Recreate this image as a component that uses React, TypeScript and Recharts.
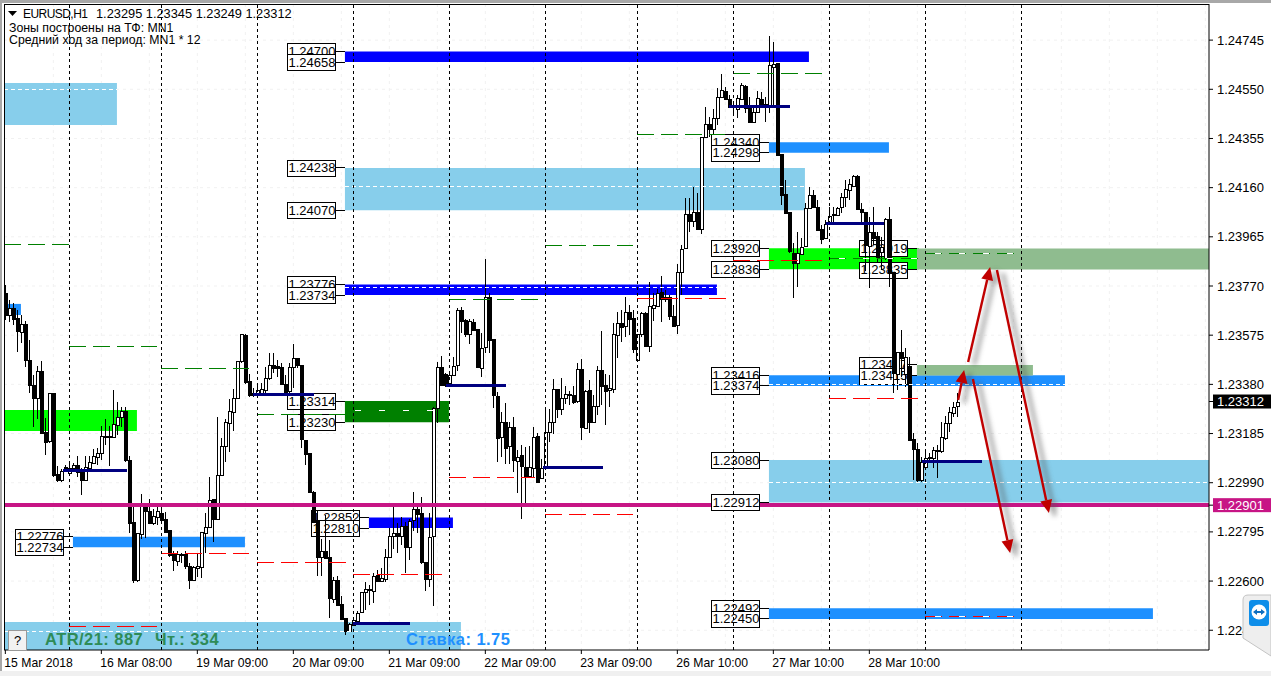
import React from 'react';
import { ComposedChart, Bar, XAxis, YAxis, CartesianGrid, ReferenceArea, ReferenceLine, ReferenceDot } from 'recharts';

// OHLC in 1e-5 price points, [open, high, low, close]
const bars15Mar = [
[123741,123774,123635,123655],[123653,123715,123629,123682],[123682,123701,123616,123639],[123642,123675,123510,123589],[123589,123655,123545,123620],[123620,123633,123450,123477],[123477,123556,123345,123378],[123378,123417,123212,123325],[123325,123453,123242,123434],[123434,123473,123183,123189],[123193,123245,123100,123153],[123153,123345,123146,123345],[123345,123345,123014,123021],[123025,123058,122994,123001],[123001,123043,122994,123037],[123051,123060,123034,123037],[123030,123074,123025,123050],[123047,123070,123040,123060],[123060,123094,123014,123034],[123034,123047,122941,123001],[123001,123094,123001,123051],[123047,123094,123040,123071],[123070,123123,123064,123096],[123093,123127,123060,123107],
];
const bars16Mar = [
[123107,123215,123080,123175],[123175,123241,123140,123170],[123175,123216,123057,123172],[123173,123358,123170,123223],[123216,123312,123179,123249],[123249,123292,123212,123274],[123274,123292,123074,123078],[123080,123094,122790,122832],[122833,122902,122594,122604],[122604,122790,122598,122790],[122786,122944,122766,122905],[122905,122911,122772,122878],[122878,122924,122825,122832],[122829,122885,122821,122858],[122856,122905,122821,122878],[122869,122911,122825,122842],[122848,122872,122792,122795],[122801,122801,122697,122700],[122706,122719,122640,122682],[122680,122719,122660,122706],[122706,122713,122673,122703],[122706,122719,122647,122657],[122660,122673,122570,122604],[122604,122660,122600,122657],
];
const bars19Mar = [
[122654,122706,122618,122660],[122657,122795,122614,122795],[122792,122871,122713,122815],[122812,123013,122812,122920],[122924,122924,122753,122845],[122845,123251,122845,123020],[123020,123169,123017,123136],[123136,123242,123072,123231],[123228,123323,123112,123275],[123271,123360,123195,123325],[123325,123473,123321,123473],[123470,123580,123466,123578],[123576,123580,123381,123391],[123393,123420,123330,123338],[123347,123364,123331,123338],[123338,123375,123330,123358],[123338,123384,123335,123360],[123358,123450,123338,123404],[123404,123503,123397,123457],[123457,123503,123426,123446],[123454,123477,123410,123448],[123448,123463,123377,123380],[123381,123417,123344,123348],[123351,123463,123344,123448],
];
const bars20Mar = [
[123448,123540,123364,123483],[123483,123483,123444,123454],[123457,123457,123126,123162],[123159,123159,123060,123104],[123107,123107,122951,122951],[122955,122957,122833,122836],[122842,122882,122622,122697],[122697,122766,122622,122719],[122719,122862,122690,122693],[122694,122763,122452,122532],[122528,122617,122512,122604],[122604,122620,122505,122505],[122508,122541,122446,122450],[122452,122452,122386,122400],[122403,122433,122403,122430],[122426,122459,122426,122446],[122442,122483,122435,122472],[122475,122558,122475,122555],[122554,122598,122485,122567],[122567,122584,122505,122565],[122562,122631,122512,122622],[122624,122644,122602,122602],[122602,122653,122598,122612],[122608,122726,122598,122694],
];
const bars21Mar = [
[122694,122809,122690,122779],[122776,122902,122726,122789],[122789,122829,122710,122776],[122779,122856,122743,122820],[122820,122836,122633,122737],[122737,122845,122684,122840],[122840,122952,122800,122885],[122885,122902,122789,122866],[122869,122932,122668,122673],[122677,122677,122562,122610],[122610,122869,122578,122776],[122780,123292,122503,123288],[123288,123470,123228,123450],[123450,123493,123378,123380],[123420,123424,123368,123378],[123386,123430,123381,123419],[123419,123487,123419,123454],[123454,123681,123434,123674],[123674,123688,123582,123632],[123635,123641,123569,123579],[123579,123641,123540,123631],[123627,123641,123592,123595],[123599,123599,123443,123450],[123447,123582,123410,123526],
];
const bars22Mar = [
[123526,123877,123503,123725],[123725,123741,123505,123555],[123558,123558,123288,123335],[123333,123351,123073,123168],[123170,123271,123093,123229],[123229,123308,123066,123125],[123133,123232,123064,123209],[123209,123249,123033,123077],[123077,123119,122948,123093],[123098,123139,122848,123053],[123053,123133,122908,123016],[123016,123135,123007,123053],[123051,123212,123007,123172],[123176,123188,122987,122994],[123011,123086,123007,123049],[123053,123278,123053,123192],[123192,123281,123152,123232],[123232,123403,123185,123361],[123361,123361,123245,123282],[123282,123407,123258,123324],[123323,123374,123304,123340],[123340,123355,123298,123336],[123337,123374,123304,123311],[123311,123463,123308,123439],
];
const bars23Mar = [
[123439,123479,123159,123209],[123209,123357,123205,123355],[123357,123397,123188,123232],[123232,123337,123228,123295],[123295,123452,123258,123437],[123437,123592,123298,123374],[123377,123423,123218,123355],[123355,123417,123291,123364],[123361,123622,123344,123578],[123575,123668,123483,123622],[123622,123674,123549,123606],[123608,123727,123569,123665],[123665,123694,123575,123639],[123644,123674,123503,123520],[123476,123578,123476,123578],[123578,123668,123569,123661],[123664,123668,123529,123533],[123533,123787,123509,123690],[123682,123741,123632,123694],[123694,123760,123694,123744],[123747,123809,123628,123719],[123719,123755,123705,123725],[123727,123734,123635,123652],[123651,123694,123606,123611],
];
const bars26Mar = [
[123612,123859,123579,123824],[123824,123932,123734,123915],[123919,124120,123915,124055],[124055,124118,123985,124029],[124028,124164,124005,124065],[124062,124137,123992,123996],[123996,124362,123976,124359],[124359,124481,124355,124411],[124411,124441,124362,124392],[124392,124472,124369,124435],[124439,124554,124408,124521],[124521,124609,124514,124547],[124543,124560,124507,124510],[124510,124527,124474,124478],[124488,124501,124444,124485],[124472,124527,124435,124514],[124510,124574,124507,124567],[124564,124567,124455,124478],[124488,124521,124417,124421],[124421,124478,124415,124459],[124459,124544,124455,124514],[124511,124541,124474,124492],[124492,124521,124421,124481],[124481,124761,124455,124646],
];
const bars27Mar = [
[124640,124736,124481,124650],[124653,124653,124289,124289],[124293,124293,124091,124131],[124135,124190,124058,124058],[124062,124065,123900,123906],[123900,123939,123721,123862],[123862,123983,123767,123900],[123897,123959,123893,123926],[123926,124098,123926,124078],[124078,124164,124074,124131],[124131,124151,124080,124085],[124085,124111,123992,123995],[123995,124012,123936,123956],[123959,124032,123956,124014],[124016,124085,124012,124049],[124049,124085,124025,124054],[124052,124085,124052,124081],[124081,124137,124058,124122],[124120,124190,124085,124153],[124148,124193,124111,124173],[124168,124210,124164,124207],[124206,124210,124071,124074],[124074,124098,124018,124061],[124065,124065,123830,123933],
];
const bars28Mar = [
[123930,124045,123761,123986],[123986,124085,123933,123963],[123969,123986,123860,123887],[123906,123966,123834,123926],[123880,124039,123873,124035],[124035,124085,123768,123821],[123825,123825,123346,123425],[123424,123510,123358,123510],[123510,123595,123410,123487],[123424,123523,123371,123490],[123454,123490,123159,123159],[123162,123186,123001,123122],[123122,123146,122990,122998],[123001,123093,122994,123073],[123054,123113,123051,123089],[123086,123106,123067,123090],[123087,123133,123047,123120],[123119,123139,123007,123117],[123113,123232,123109,123170],[123166,123254,123159,123225],[123225,123292,123192,123269],[123268,123311,123252,123291],[123295,123345,123249,123312],
];

const priceTicks = [1.24745, 1.2455, 1.24355, 1.2416, 1.23965, 1.2377, 1.23575, 1.2338, 1.23185, 1.2299, 1.22795, 1.226, 1.22405];
const xTickIdx = [0, 24, 48, 72, 96, 120, 144, 168, 192, 216];
const xTickLabels = ['15 Mar 2018', '16 Mar 08:00', '19 Mar 09:00', '20 Mar 09:00', '21 Mar 09:00', '22 Mar 09:00', '23 Mar 09:00', '26 Mar 10:00', '27 Mar 10:00', '28 Mar 10:00'];
const gridIdx = [12, 24, 36, 48, 60, 72, 84, 96, 108, 120, 132, 144, 156, 168, 180, 192, 204, 216, 228, 240, 252, 264, 276, 288, 300];
const sessionIdx = [16, 39, 63, 87, 111, 135, 158, 182, 206, 230, 254];

const LAST = 1.23312;
const CLUSTER = 1.22901;
const X_MIN = -0.3325;
const X_MAX = 300.9175;
const Y_MIN = 1.223267;
const Y_MAX = 1.248882;

// zones: [from bar, to bar, top price, bottom price, colour]
const zones: [number, number, number, number, string][] = [
  [X_MIN, 27.9, 1.24575, 1.24408, '#87CEEB'],
  [84.9, 199.9, 1.24238, 1.2407, '#87CEEB'],
  [84.9, 200.9, 1.247, 1.24658, '#0000FF'],
  [84.9, 177.9, 1.23776, 1.23734, '#0000FF'],
  [84.9, 110.9, 1.23314, 1.2323, '#008000'],
  [X_MIN, 32.9, 1.23278, 1.23195, '#00FF00'],
  [16.9, 59.9, 1.22776, 1.22734, '#1E90FF'],
  [90.9, 111.9, 1.22852, 1.2281, '#0000FF'],
  [X_MIN, 3.9, 1.23699, 1.23655, '#1E90FF'],
  [X_MIN, 113.9, 1.22438, Y_MIN, '#87CEEB'],
  [190.9, 220.9, 1.2434, 1.24298, '#1E90FF'],
  [190.9, 228.4, 1.2392, 1.23836, '#00FF00'],
  [227.9, X_MAX, 1.23919, 1.23835, '#8FBC8F'],
  [190.9, X_MAX, 1.2308, 1.22912, '#87CEEB'],
  [190.9, 264.9, 1.23416, 1.23374, '#1E90FF'],
  [227.9, 256.9, 1.23457, 1.23415, '#8FBC8F'],
  [190.9, 286.9, 1.22492, 1.2245, '#1E90FF'],
];

// [anchor bar, price, text]
const boxes: [number, number, string][] = [
  [84.9, 1.247, '1.24700'], [84.9, 1.24658, '1.24658'], [84.9, 1.24238, '1.24238'], [84.9, 1.2407, '1.24070'],
  [84.9, 1.23776, '1.23776'], [84.9, 1.23734, '1.23734'], [84.9, 1.23314, '1.23314'], [84.9, 1.2323, '1.23230'],
  [16.9, 1.22776, '1.22776'], [16.9, 1.22734, '1.22734'], [90.9, 1.22852, '1.22852'], [90.9, 1.2281, '1.22810'],
  [190.9, 1.2434, '1.24340'], [190.9, 1.24298, '1.24298'], [190.9, 1.2392, '1.23920'], [190.9, 1.23836, '1.23836'],
  [190.9, 1.23416, '1.23416'], [190.9, 1.23374, '1.23374'], [190.9, 1.2308, '1.23080'],
  [190.9, 1.22492, '1.22492'], [190.9, 1.2245, '1.22450'],
  [227.9, 1.23919, '1.23919'], [227.9, 1.23835, '1.23835'], [227.9, 1.23457, '1.23457'], [227.9, 1.23415, '1.23415'],
];
// this one sits above the magenta line
const frontBoxes: [number, number, string][] = [[190.9, 1.22912, '1.22912']];

// [from bar, to bar, price]
const greenLevels: [number, number, number][] = [
  [X_MIN, 16, 1.23933], [16, 38, 1.23532], [39, 61, 1.23441], [63, 87, 1.23259], [111, 133.5, 1.23718],
  [135, 157, 1.23929], [158, 180, 1.24369], [182, 204.5, 1.24611], [206, 230, 1.23881], [230, 254, 1.23897],
];
const redLevels: [number, number, number][] = [
  [X_MIN, 16, 1.22894], [16, 38, 1.22418], [39, 61, 1.22711], [63, 85.4, 1.22672], [87, 110, 1.22628], [111, 132.5, 1.23009],
  [135, 157, 1.22862], [158, 180.4, 1.23722], [182, 204.4, 1.23873], [206, 228.4, 1.23322], [230, 254, 1.22458],
];
const whiteDashes: [number, number, number][] = [
  [X_MIN, 27.9, 1.24551], [84.9, 199.9, 1.24163], [84.9, 177.9, 1.23766], [X_MIN, 113.9, 1.22402],
  [190.9, X_MAX, 1.2299], [190.9, 264.9, 1.23381],
];
const sparseDashes: [number, number, number][] = [[84.9, 110.9, 1.23278], [206, 230, 1.23881], [230, 254, 1.23897], [230, 254, 1.22458]];
const navyLevels: [number, number, number][] = [
  [14.4, 30.4, 1.2304], [61.9, 77.2, 1.23338], [86.9, 101.2, 1.2243], [110.2, 125.2, 1.23377],
  [134.4, 149.4, 1.23052], [180.9, 196.2, 1.2448], [205.2, 219.7, 1.24016], [229.2, 244.2, 1.23076],
];
// [from bar, from price, to bar, to price]
const arrows: [number, number, number, number][] = [
  [238.2, 1.23318, 239.7, 1.23437],
  [240.7, 1.23469, 246.2, 1.23845],
  [241.9, 1.23401, 251.2, 1.22711],
  [247.9, 1.23833, 260.9, 1.2287],
];

const allBars = [...bars15Mar, ...bars16Mar, ...bars19Mar, ...bars20Mar, ...bars21Mar, ...bars22Mar, ...bars23Mar, ...bars26Mar, ...bars27Mar, ...bars28Mar];
const table = allBars.map((b, i) => ({ i, open: b[0] / 1e5, high: b[1] / 1e5, low: b[2] / 1e5, close: b[3] / 1e5, range: [b[2] / 1e5, b[1] / 1e5] }));

const FONT = '"Liberation Sans", Arial, sans-serif';

const Candle = (p: any) => {
  const { x, y, width, height, payload } = p;
  const cx = Math.round(x + width / 2) + 0.5;
  const k = payload.high > payload.low ? height / (payload.high - payload.low) : 0;
  const yo = y + (payload.high - payload.open) * k;
  const yc = y + (payload.high - payload.close) * k;
  const top = Math.round(Math.min(yo, yc)) + 0.5;
  const h = Math.max(1, Math.round(Math.abs(yo - yc)));
  const up = payload.close > payload.open;
  return (
    <g shapeRendering="crispEdges">
      <line x1={cx} x2={cx} y1={y} y2={y + height} stroke="#000" />
      <rect x={cx - 1.5} y={top} width={3} height={h} fill={up ? '#fff' : '#000'} stroke="#000" />
    </g>
  );
};

const LabelBox = (p: any) => {
  const { cx, cy, text } = p;
  return (
    <g>
      <line x1={cx - 10} x2={cx} y1={cy} y2={cy} stroke="#000" shapeRendering="crispEdges" />
      <rect x={Math.round(cx - 58) + 0.5} y={Math.round(cy - 8) + 0.5} width={48} height={16} fill="#fff" stroke="#000" shapeRendering="crispEdges" />
      <text x={cx - 56.5} y={cy + 4.5} fontSize={13} fontFamily={FONT} fill="#000">{text}</text>
    </g>
  );
};

const PriceTick = (p: any) => {
  const { x, y, payload } = p;
  const v = payload.value;
  const txt = v.toFixed(5);
  if (v === LAST || v === CLUSTER) {
    return (
      <g>
        <rect x={x - 2} y={y - 7} width={58} height={14} fill={v === LAST ? '#000' : '#C71585'} />
        <text x={x + 2} y={y + 4.5} fontSize={13} fontFamily={FONT} fill="#fff">{txt}</text>
      </g>
    );
  }
  return <text x={x + 2} y={y + 4.5} fontSize={13} fontFamily={FONT} fill="#000">{txt}</text>;
};

const TimeTick = (p: any) => {
  const { x, y, payload } = p;
  const idx = xTickIdx.indexOf(payload.value);
  return <text x={x - 1} y={y + 11} fontSize={12.2} fontFamily={FONT} fill="#000">{xTickLabels[idx]}</text>;
};

const ArrowShape = (p: any) => {
  const { x1, y1, x2, y2 } = p;
  const a = Math.atan2(y2 - y1, x2 - x1);
  const L = 13, W = 6;
  const bx = x2 - L * Math.cos(a), by = y2 - L * Math.sin(a);
  const nx = -Math.sin(a) * W, ny = Math.cos(a) * W;
  const head = `${x2},${y2} ${bx + nx},${by + ny} ${bx - nx},${by - ny}`;
  return (
    <g>
      <g transform="translate(6,3)" opacity={0.5} filter="url(#arrowBlur)">
        <line x1={x1} y1={y1} x2={x2} y2={y2} stroke="#555" strokeWidth={4} />
        <polygon points={head} fill="#555" />
      </g>
      <line x1={x1} y1={y1} x2={bx} y2={by} stroke="#C00000" strokeWidth={2.4} />
      <polygon points={head} fill="#C00000" />
    </g>
  );
};

const seg = (a: number, b: number, v: number) => [{ x: a, y: v }, { x: b, y: v }] as any;
const crisp = { shapeRendering: 'crispEdges' } as any;
const textLine = { position: 'absolute', lineHeight: '14px', whiteSpace: 'pre', color: '#000' } as any;
const boldLine = { position: 'absolute', top: 630, fontSize: 16.5, lineHeight: '18px', fontWeight: 700, letterSpacing: 0.45, whiteSpace: 'pre' } as any;

export default function App() {
  return (
    <div style={{ position: 'absolute', left: 0, top: 0, width: 1271, height: 676, overflow: 'hidden', background: '#fff', fontFamily: FONT }}>
      <ComposedChart width={1271} height={676} data={table} margin={{ top: 4, right: 0, bottom: 0, left: 4 }}>
        <defs>
          <filter id="arrowBlur" x="-100%" y="-100%" width="300%" height="300%"><feGaussianBlur stdDeviation="2.5" /></filter>
        </defs>
        <CartesianGrid stroke="#f1f1f1" strokeDasharray="3 4" verticalValues={gridIdx} horizontalValues={priceTicks} />
        <XAxis dataKey="i" type="number" scale="linear" domain={[X_MIN, X_MAX]} allowDataOverflow ticks={xTickIdx} interval={0} height={26} tick={<TimeTick />} tickSize={4} tickLine={{ stroke: '#000' }} axisLine={{ stroke: '#000' }} />
        <YAxis orientation="right" type="number" domain={[Y_MIN, Y_MAX]} allowDataOverflow ticks={[...priceTicks, LAST, CLUSTER]} interval={0} width={62} tick={<PriceTick />} tickSize={4} tickLine={{ stroke: '#000' }} axisLine={{ stroke: '#000' }} />
        {zones.map((z, k) => (
          <ReferenceArea key={'z' + k} x1={z[0]} x2={z[1]} y1={z[2]} y2={z[3]} fill={z[4]} fillOpacity={1} stroke="none" />
        ))}
        {boxes.map((b, k) => (
          <ReferenceDot key={'b' + k} zIndex={150} x={b[0]} y={b[1]} shape={(q: any) => <LabelBox {...q} text={b[2]} />} />
        ))}
        {frontBoxes.map((b, k) => (
          <ReferenceDot key={'f' + k} zIndex={500} x={b[0]} y={b[1]} shape={(q: any) => <LabelBox {...q} text={b[2]} />} />
        ))}
        <Bar dataKey="range" barSize={3} isAnimationActive={false} shape={<Candle />} />
        {whiteDashes.map((d, k) => <ReferenceLine key={'w' + k} segment={seg(d[0], d[1], d[2])} stroke="#fff" strokeDasharray="4 3" {...crisp} />)}
        {greenLevels.map((d, k) => <ReferenceLine key={'g' + k} segment={seg(d[0], d[1], d[2])} stroke="#008000" strokeDasharray="17 7" {...crisp} />)}
        {redLevels.map((d, k) => <ReferenceLine key={'r' + k} segment={seg(d[0], d[1], d[2])} stroke="#FF0000" strokeDasharray="17 7" {...crisp} />)}
        {sparseDashes.map((d, k) => <ReferenceLine key={'s' + k} segment={seg(d[0], d[1], d[2])} stroke="#fff" strokeDasharray="6 18" strokeDashoffset={-10} {...crisp} />)}
        {sessionIdx.map((v) => <ReferenceLine key={'v' + v} x={v} stroke="#000" strokeDasharray="3 3" {...crisp} />)}
        {navyLevels.map((d, k) => <ReferenceLine key={'n' + k} segment={seg(d[0], d[1], d[2])} stroke="#000080" strokeWidth={3} {...crisp} />)}
        <ReferenceLine y={CLUSTER} stroke="#C71585" strokeWidth={4} {...crisp} />
        {arrows.map((a, k) => (
          <ReferenceLine key={'a' + k} zIndex={600} segment={[{ x: a[0], y: a[1] }, { x: a[2], y: a[3] }] as any} shape={<ArrowShape />} />
        ))}
      </ComposedChart>

      <div style={{ position: 'absolute', left: 0, top: 0, width: 1271, height: 3, background: '#a8a8a8' }} />
      <div style={{ position: 'absolute', left: 0, top: 0, width: 2, height: 676, background: '#a8a8a8' }} />
      <div style={{ position: 'absolute', left: 4, top: 4, width: 1205, height: 1, background: '#000' }} />
      <div style={{ position: 'absolute', left: 4, top: 4, width: 1, height: 646, background: '#000' }} />
      <div style={{ position: 'absolute', left: 0, top: 671, width: 1271, height: 5, background: '#f0f0f0' }} />

      <svg style={{ position: 'absolute', left: 8, top: 11 }} width={10} height={6}><polygon points="0,0 9,0 4.5,5" fill="#000" /></svg>
      <div style={{ ...textLine, left: 23, top: 7, fontSize: 12, letterSpacing: -0.55 }}>EURUSD,H1</div>
      <div style={{ ...textLine, left: 96, top: 7, fontSize: 12.8 }}>1.23295 1.23345 1.23249 1.23312</div>
      <div style={{ ...textLine, left: 9, top: 21, fontSize: 12.3 }}>Зоны построены на ТФ: MN1</div>
      <div style={{ ...textLine, left: 9, top: 33, fontSize: 12.3 }}>Средний ход за период: MN1 * 12</div>

      <div style={{ position: 'absolute', left: 8, top: 630, width: 17, height: 19, background: '#f2f2f2', border: '1px solid #999', fontSize: 13, lineHeight: '20px', textAlign: 'center', color: '#000' }}>?</div>
      <div style={{ ...boldLine, left: 45, color: '#2E8B57' }}>ATR/21: 887</div>
      <div style={{ ...boldLine, left: 155, color: '#2E8B57' }}>Чт.: 334</div>
      <div style={{ ...boldLine, left: 406, color: '#1E90FF' }}>Ставка: 1.75</div>

      <svg style={{ position: 'absolute', left: 1242, top: 594 }} width={29} height={72}>
        <path d="M29,1 L6,1 Q1,1 1,6 L1,44 L29,62 Z" fill="#eeeeee" stroke="#c4c4c4" />
        <rect x={7} y={6} width={20} height={26} rx={3} fill="#0E8EE9" />
        <circle cx={17} cy={18} r={7.5} fill="#fff" />
        <path d="M11,18 l4,-3 v2 h4 v-2 l4,3 l-4,3 v-2 h-4 v2 z" fill="#0E6FC0" />
      </svg>
    </div>
  );
}
